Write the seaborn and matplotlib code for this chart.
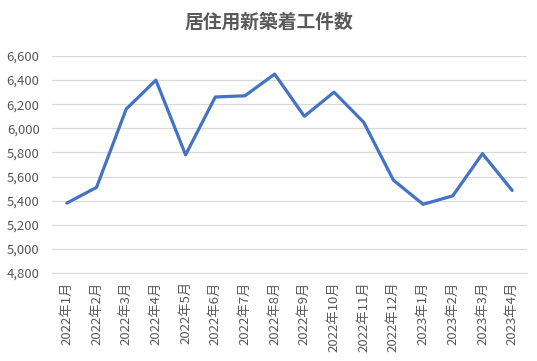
import matplotlib
matplotlib.use("Agg")
import matplotlib.pyplot as plt
import seaborn as sns
import pandas as pd

months = ["2022年1月", "2022年2月", "2022年3月", "2022年4月", "2022年5月", "2022年6月",
          "2022年7月", "2022年8月", "2022年9月", "2022年10月", "2022年11月", "2022年12月",
          "2023年1月", "2023年2月", "2023年3月", "2023年4月"]
counts = [5380, 5510, 6160, 6400, 5780, 6260, 6270, 6450, 6100, 6300, 6050, 5570,
          5370, 5440, 5790, 5485]
y_ticks = [4800, 5000, 5200, 5400, 5600, 5800, 6000, 6200, 6400, 6600]

sns.set_style("white")
plt.rcParams["font.family"] = ["Noto Sans CJK JP", "DejaVu Sans"]

df = pd.DataFrame({"月": months, "件数": counts})

fig = plt.figure(figsize=(5.37, 3.61), dpi=100)
ax = fig.add_axes([52 / 537, 1 - 273 / 361, (527 - 52) / 537, (273 - 56) / 361])

sns.lineplot(data=df, x="月", y="件数", ax=ax, color="#4472C4", linewidth=2.3, sort=False)

ax.set_ylim(4800, 6600)
ax.set_yticks(y_ticks)
ax.set_yticklabels([f"{v:,}" for v in y_ticks])
ax.set_xlim(-0.5, len(months) - 0.5)
ax.set_xticks(range(len(months)))
ax.set_xticklabels(months, rotation=90)
ax.set_xticks([i + 0.5 for i in range(-1, len(months))], minor=True)

ax.grid(axis="y", color="#D9D9D9", linewidth=0.9)
ax.set_axisbelow(True)
for s in ["top", "right", "left"]:
    ax.spines[s].set_visible(False)
ax.spines["bottom"].set_color("#D9D9D9")
ax.tick_params(axis="x", which="major", length=0, pad=6, labelsize=9.5, labelcolor="#595959")
ax.tick_params(axis="x", which="minor", length=5, color="#D9D9D9")
ax.tick_params(axis="y", length=0, pad=9, labelsize=9.5, labelcolor="#595959")
ax.set_xlabel("")
ax.set_ylabel("")

fig.suptitle("居住用新築着工件数", x=0.5, y=0.965, fontsize=13.5, color="#595959",
             fontweight="bold")

fig.savefig("out.png", dpi=100)
